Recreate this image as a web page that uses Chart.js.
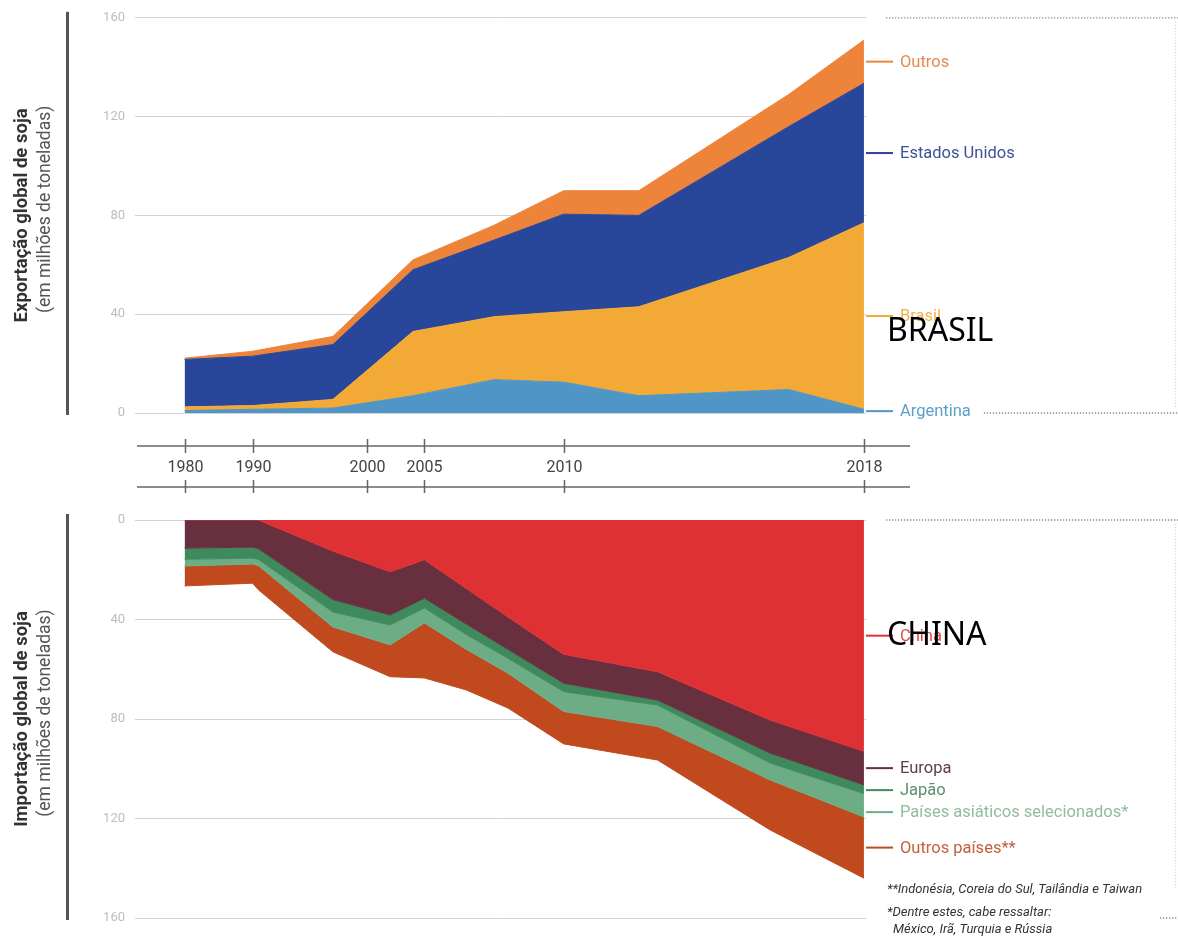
<!DOCTYPE html>
<html lang="pt">
<head>
<meta charset="utf-8">
<title>Exportação e importação global de soja</title>
<script src="https://cdn.jsdelivr.net/npm/chart.js@4.4.1/dist/chart.umd.min.js"></script>
<style>
  html, body { margin: 0; padding: 0; background: #fff; overflow: hidden; }
  #wrap { position: relative; width: 1178px; height: 937px; }
  .box { position: absolute; left: 0; width: 1178px; }
  #topBox { top: 0; height: 500px; }
  #bottomBox { top: 500px; height: 437px; }
</style>
</head>
<body>
<div id="wrap">
  <div class="box" id="topBox"><canvas id="exportChart"></canvas></div>
  <div class="box" id="bottomBox"><canvas id="importChart"></canvas></div>
</div>
<script>
// stylized year axis: label years and where each sits along the axis (0 = 1980, 100 = 2018)
const tickYears = [1980, 1990, 2000, 2005, 2010, 2018];
const tickSlots = [0, 10, 26.9, 35.3, 55.8, 100];

// export (million tonnes)
const exportYears = [1980, 1990, 1997, 2004, 2007.5, 2010, 2012, 2016, 2018];
const argentinaExport = [1, 1.5, 2, 7, 13.5, 12.5, 7, 9.5, 1.5];
const brasilExport = [1.5, 1.5, 3.5, 26, 25.5, 28.5, 36, 53.5, 75.5];
const euaExport = [19.2, 20, 22.2, 25, 31, 39.5, 37, 53, 56.5];
const outrosExport = [0.5, 2, 3.3, 4, 6, 9.5, 10, 13, 17.5];

// import (million tonnes)
const importYears = [1980, 1990, 1990.5, 1997, 2002, 2005, 2006.5, 2008, 2010, 2012.5, 2015.5, 2018];
const chinaImport = [0, 0, 0, 12.5, 20.8, 16, 27.5, 39, 54, 61, 80.4, 93];
const europaImport = [11.3, 10.9, 11.5, 19.5, 17.4, 15.4, 14.3, 13, 11.6, 11.4, 13.3, 13.5];
const japaoImport = [4.5, 4.4, 4.3, 5, 4, 4, 4.2, 3.6, 3.4, 2, 4, 3.5];
const asiaImport = [2.7, 2.4, 2.5, 6, 8, 6, 6, 6, 8, 8.6, 6.8, 9.4];
const outrosImport = [8, 7.7, 9.7, 10, 12.8, 22.1, 16.3, 14, 13, 13.5, 20.1, 24.6];

const yTicks = [0, 40, 80, 120, 160];

const FONT = 'Roboto, "Noto Sans", sans-serif';

// map a year onto the stylized axis
const yearToSlot = (year) => {
  for (let i = 1; i < tickYears.length; i++) {
    if (year <= tickYears[i]) {
      const t = (year - tickYears[i - 1]) / (tickYears[i] - tickYears[i - 1]);
      return tickSlots[i - 1] + t * (tickSlots[i] - tickSlots[i - 1]);
    }
  }
  return tickSlots[tickSlots.length - 1];
};

const makeSeries = (label, years, values, fillColor, textColor) => ({
  label,
  data: values.map((v, i) => ({ x: yearToSlot(years[i]), y: v })),
  backgroundColor: fillColor,
  borderColor: fillColor,
  borderWidth: 1,
  pointRadius: 0,
  tension: 0,
  textColor
});

const exportSets = [
  makeSeries('Argentina', exportYears, argentinaExport, '#4f96c6', '#5c9fcb'),
  makeSeries('Brasil', exportYears, brasilExport, '#f2a935', '#f2b24a'),
  makeSeries('Estados Unidos', exportYears, euaExport, '#28479a', '#3d5197'),
  makeSeries('Outros', exportYears, outrosExport, '#ed843a', '#e58a4f')
];

const importSets = [
  makeSeries('China', importYears, chinaImport, '#df3134', '#d94a4a'),
  makeSeries('Europa', importYears, europaImport, '#682f3e', '#5e3f49'),
  makeSeries('Japão', importYears, japaoImport, '#3f8a5c', '#5a8f6c'),
  makeSeries('Países asiáticos selecionados*', importYears, asiaImport, '#6dad85', '#92bba0'),
  makeSeries('Outros países**', importYears, outrosImport, '#c04a1d', '#c35f3a')
];

exportSets.forEach((ds, i) => { ds.fill = i === 0 ? 'origin' : '-1'; });
importSets.forEach((ds, i) => { ds.fill = i === 0 ? 'origin' : '-1'; });

// labels at the right end of each band, with a short leader line
const drawBandLabels = (chart) => {
  const { ctx, chartArea } = chart;
  const sets = chart.data.datasets;
  const last = sets[0].data.length - 1;
  const originY = chart.scales.y.getPixelForValue(0);
  let prev = originY;
  const items = sets.map((ds, i) => {
    const pt = chart.getDatasetMeta(i).data[last];
    const mid = (pt.y + prev) / 2;
    prev = pt.y;
    return { y: mid, ds };
  });
  items.sort((a, b) => a.y - b.y);
  for (let i = 1; i < items.length; i++) {
    if (items[i].y - items[i - 1].y < 22) items[i].y = items[i - 1].y + 22;
  }
  ctx.save();
  ctx.font = '16.5px ' + FONT;
  ctx.textBaseline = 'middle';
  ctx.textAlign = 'left';
  items.forEach(({ y, ds }) => {
    ctx.strokeStyle = ds.borderColor;
    ctx.lineWidth = 2;
    ctx.beginPath();
    ctx.moveTo(chartArea.right, y);
    ctx.lineTo(chartArea.right + 27, y);
    ctx.stroke();
    ctx.fillStyle = ds.textColor;
    ctx.fillText(ds.label, chartArea.right + 34, y + 1);
    ds._labelEnd = chartArea.right + 34 + ctx.measureText(ds.label).width;
    ds._labelY = y;
  });
  ctx.restore();
};

const dotted = (ctx, x1, y1, x2, y2, color) => {
  ctx.save();
  ctx.strokeStyle = color;
  ctx.lineWidth = 1.3;
  ctx.setLineDash([1.3, 1.7]);
  ctx.beginPath();
  ctx.moveTo(x1, y1);
  ctx.lineTo(x2, y2);
  ctx.stroke();
  ctx.restore();
};

const drawSideTitle = (chart, title, subtitle) => {
  const { ctx, chartArea } = chart;
  const midY = (chartArea.top + chartArea.bottom) / 2;
  ctx.save();
  ctx.fillStyle = '#555';
  ctx.fillRect(66, chartArea.top - 6, 3, chartArea.bottom - chartArea.top + 8);
  ctx.textAlign = 'center';
  ctx.textBaseline = 'middle';
  ctx.fillStyle = '#333';
  ctx.translate(22, midY);
  ctx.rotate(-Math.PI / 2);
  ctx.font = 'bold 18.5px ' + FONT;
  ctx.fillText(title, 0, 0);
  ctx.restore();
  ctx.save();
  ctx.textAlign = 'center';
  ctx.textBaseline = 'middle';
  ctx.fillStyle = '#555';
  ctx.translate(46, midY - 6);
  ctx.rotate(-Math.PI / 2);
  ctx.font = '17.5px ' + FONT;
  ctx.fillText(subtitle, 0, 0);
  ctx.restore();
};

const overlayWord = (chart, word, y) => {
  const { ctx, chartArea } = chart;
  ctx.save();
  ctx.font = '32px "Noto Sans", sans-serif';
  ctx.fillStyle = '#000';
  ctx.textBaseline = 'middle';
  ctx.fillText(word, chartArea.right + 21, y);
  ctx.restore();
};

const exportDecor = {
  id: 'exportDecor',
  afterDraw(chart) {
    const { ctx, chartArea, scales: { x } } = chart;
    drawSideTitle(chart, 'Exportação global de soja', '(em milhões de toneladas)');
    drawBandLabels(chart);

    // middle year axis, two rules with ticks
    const line1 = chartArea.bottom + 33;
    const line2 = chartArea.bottom + 74;
    ctx.save();
    ctx.strokeStyle = '#666';
    ctx.lineWidth = 1.5;
    [line1, line2].forEach((ly) => {
      ctx.beginPath();
      ctx.moveTo(chartArea.left + 2, ly);
      ctx.lineTo(chartArea.right + 44, ly);
      ctx.stroke();
    });
    ctx.font = '16px ' + FONT;
    ctx.fillStyle = '#444';
    ctx.textAlign = 'center';
    ctx.textBaseline = 'middle';
    tickYears.forEach((yr, i) => {
      const px = Math.round(x.getPixelForValue(tickSlots[i])) + 0.5;
      ctx.beginPath();
      ctx.moveTo(px, line1 - 7);
      ctx.lineTo(px, line1 + 7);
      ctx.moveTo(px, line2 - 7);
      ctx.lineTo(px, line2 + 6);
      ctx.stroke();
      ctx.fillText(String(yr), px, (line1 + line2) / 2 + 1);
    });
    ctx.restore();

    // dotted frame on the right
    const arg = chart.data.datasets[0];
    dotted(ctx, chartArea.right + 20, chartArea.top, 1178, chartArea.top, '#8a8a8a');
    dotted(ctx, arg._labelEnd + 13, chartArea.bottom, 1178, chartArea.bottom, '#8a8a8a');
    dotted(ctx, 1175.5, chartArea.top + 4, 1175.5, chartArea.bottom - 4, '#d8d8d8');

    const bra = chart.data.datasets[1];
    overlayWord(chart, 'BRASIL', bra._labelY + 16);
  }
};

const importDecor = {
  id: 'importDecor',
  afterDraw(chart) {
    const { ctx, chartArea } = chart;
    drawSideTitle(chart, 'Importação global de soja', '(em milhões de toneladas)');
    drawBandLabels(chart);

    ctx.save();
    ctx.font = 'italic 13px ' + FONT;
    ctx.fillStyle = '#333';
    ctx.textBaseline = 'middle';
    ctx.fillText('**Indonésia, Coreia do Sul, Tailândia e Taiwan', chartArea.right + 21, chartArea.bottom - 28);
    ctx.fillText('*Dentre estes, cabe ressaltar:', chartArea.right + 21, chartArea.bottom - 5);
    ctx.fillText('México, Irã, Turquia e Rússia', chartArea.right + 27, chartArea.bottom + 12);
    ctx.restore();

    dotted(ctx, chartArea.right + 20, chartArea.top, 1178, chartArea.top, '#8a8a8a');
    dotted(ctx, 1160, chartArea.bottom, 1178, chartArea.bottom, '#8a8a8a');
    dotted(ctx, 1175.5, chartArea.top + 4, 1175.5, chartArea.bottom - 30, '#d8d8d8');

    const china = chart.data.datasets[0];
    overlayWord(chart, 'CHINA', china._labelY);
  }
};

const buildOptions = (reverse, padding) => ({
  responsive: true,
  maintainAspectRatio: false,
  animation: false,
  events: [],
  layout: { padding },
  scales: {
    x: {
      type: 'linear',
      display: false,
      min: -7.3,
      max: 100.3
    },
    y: {
      stacked: true,
      reverse,
      min: 0,
      max: 160,
      afterFit: (scale) => { scale.width = 135; },
      afterBuildTicks: (scale) => { scale.ticks = yTicks.map((v) => ({ value: v })); },
      border: { display: false },
      grid: { color: '#d2d2d2', lineWidth: 1, drawTicks: false },
      ticks: {
        color: '#bdbdbd',
        padding: 10,
        font: { family: FONT, size: 13 }
      }
    }
  },
  plugins: {
    legend: { display: false },
    tooltip: { enabled: false },
    filler: { propagate: false }
  }
});

new Chart(document.getElementById('exportChart'), {
  type: 'line',
  data: { datasets: exportSets },
  options: buildOptions(false, { left: 0, right: 312, top: 15, bottom: 87 }),
  plugins: [exportDecor]
});

new Chart(document.getElementById('importChart'), {
  type: 'line',
  data: { datasets: importSets },
  options: buildOptions(true, { left: 0, right: 312, top: 20, bottom: 19 }),
  plugins: [importDecor]
});
</script>
</body>
</html>
